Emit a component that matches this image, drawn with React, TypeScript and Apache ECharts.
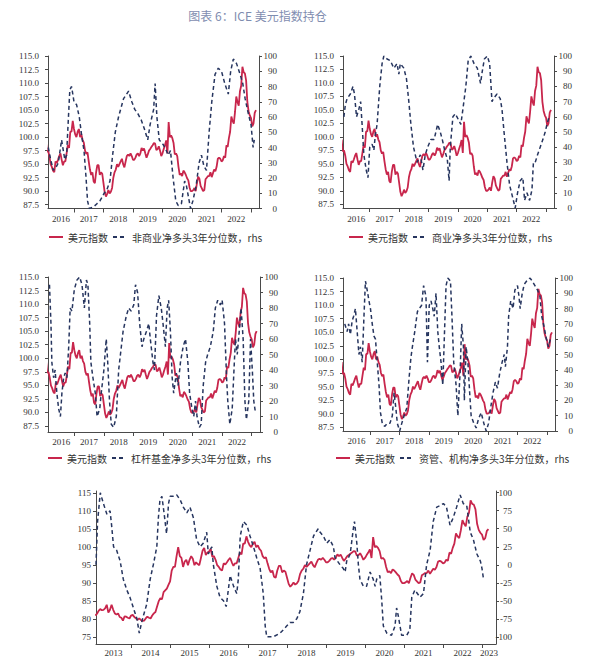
import React, { useEffect, useRef } from "react";
import * as echarts from "echarts";

// ---------- DATA ----------
const titleText = "图表 6：ICE 美元指数持仓";
const dxyName = "美元指数";
const seriesNames = [
  "非商业净多头3年分位数，rhs",
  "商业净多头3年分位数，rhs",
  "杠杆基金净多头3年分位数，rhs",
  "资管、机构净多头3年分位数，rhs",
  "非商业净多头分位数，rhs",
];

// ICE dollar index, semi-monthly readings starting Feb 2013
const dxyStart = 2013 + 1 / 12;
const dxyValues = [
  // 2013 (Feb-Dec)
  81.0, 81.5, 82.3, 82.8, 82.5, 82.6, 83.0, 84.0, 81.8, 82.6, 84.0, 82.6, 81.6, 81.3, 81.6, 80.6, 80.4, 79.6, 80.8, 80.7, 80.4, 80.2,
  // 2014
  81.0, 81.2, 80.6, 80.2, 79.8, 80.2, 79.8, 79.5, 79.6, 80.2, 80.7, 80.4, 80.2, 81.0, 81.6, 82.0, 83.5, 85.0, 85.8, 85.5, 87.5, 88.0, 88.5, 89.5,
  // 2015
  90.5, 93.5, 94.5, 94.5, 97.5, 100.0, 97.5, 97.0, 94.5, 96.0, 96.5, 95.0, 96.5, 97.5, 96.8, 95.0, 95.8, 95.3, 95.0, 97.0, 99.0, 99.8, 97.8, 98.5,
  // 2016
  98.8, 99.5, 97.3, 97.5, 96.5, 95.0, 94.5, 93.8, 93.5, 95.5, 95.2, 95.8, 96.5, 97.0, 95.8, 94.8, 95.5, 95.5, 97.0, 98.5, 98.0, 101.0, 101.0, 103.0,
  // 2017
  101.5, 100.5, 100.0, 101.0, 101.5, 100.0, 100.5, 99.5, 99.0, 97.5, 96.9, 97.2, 95.5, 94.0, 93.0, 93.5, 91.8, 91.5, 93.5, 94.8, 94.8, 93.0, 93.5, 93.2,
  // 2018
  91.5, 89.8, 89.0, 89.5, 90.2, 89.6, 89.9, 90.6, 92.5, 93.5, 94.0, 95.0, 94.5, 95.0, 95.5, 96.0, 95.0, 94.4, 95.5, 96.5, 96.8, 96.5, 97.0, 96.5,
  // 2019
  95.8, 95.8, 96.2, 96.8, 97.0, 96.5, 97.0, 98.0, 97.5, 97.9, 97.0, 96.2, 96.8, 97.5, 97.8, 98.2, 98.5, 98.9, 98.8, 97.6, 97.8, 98.3, 97.5, 96.5,
  // 2020
  97.0, 97.8, 98.5, 99.4, 97.0, 102.8, 100.0, 100.3, 99.8, 98.9, 96.8, 97.0, 96.5, 94.5, 93.0, 93.3, 92.8, 93.8, 93.5, 93.0, 92.4, 92.0, 90.7, 90.0,
  // 2021
  90.0, 90.2, 90.6, 90.0, 91.5, 92.7, 92.3, 91.0, 90.5, 90.0, 90.2, 92.2, 92.5, 92.8, 92.8, 93.5, 92.6, 93.3, 94.0, 93.7, 94.5, 96.0, 96.2, 96.0,
  // 2022
  95.5, 95.7, 96.5, 96.2, 98.5, 98.2, 99.8, 101.0, 103.8, 103.0, 102.5, 104.7, 107.5, 106.5, 105.8, 108.5, 109.5, 113.0, 112.0, 111.8, 110.5, 106.5, 104.8, 104.0,
  // 2023
  103.5, 102.0, 102.5, 104.5, 105.0,
];
const dxyDates = dxyValues.map((_, i) => dxyStart + i / 24);

// Non-commercial net long, 3y percentile
const ncDates = [2016.13, 2016.2, 2016.3, 2016.39, 2016.47, 2016.58, 2016.69, 2016.75, 2016.8, 2016.86, 2016.92, 2017.0, 2017.09, 2017.18, 2017.26, 2017.34, 2017.41, 2017.46, 2017.52, 2017.66, 2017.77, 2017.88, 2017.97, 2018.02, 2018.11, 2018.22, 2018.31, 2018.4, 2018.51, 2018.68, 2018.85, 2018.96, 2019.06, 2019.17, 2019.28, 2019.39, 2019.5, 2019.58, 2019.7, 2019.75, 2019.81, 2019.89, 2020.02, 2020.13, 2020.19, 2020.27, 2020.36, 2020.45, 2020.53, 2020.64, 2020.75, 2020.81, 2020.95, 2021.03, 2021.14, 2021.24, 2021.32, 2021.4, 2021.49, 2021.58, 2021.67, 2021.78, 2021.89, 2022.0, 2022.11, 2022.23, 2022.31, 2022.4, 2022.51, 2022.63, 2022.72, 2022.8, 2022.91, 2023.0, 2023.07, 2023.11];
const ncValues = [40, 33, 25, 27, 30, 45, 32, 35, 55, 78, 80, 70, 68, 60, 48, 38, 20, 5, 0, 1, 3, 5, 8, 10, 12, 18, 35, 50, 60, 72, 77, 70, 65, 62, 58, 52, 45, 55, 65, 82, 60, 45, 42, 38, 35, 38, 20, 5, 2, 3, 18, 15, 0, 5, 15, 30, 35, 28, 25, 50, 70, 88, 92, 90, 82, 75, 90, 98, 95, 88, 82, 72, 62, 55, 40, 45];

// Commercial net long, 3y percentile
const cmDates = [2016.12, 2016.17, 2016.23, 2016.34, 2016.43, 2016.48, 2016.55, 2016.63, 2016.69, 2016.74, 2016.8, 2016.88, 2016.94, 2017.0, 2017.08, 2017.14, 2017.19, 2017.25, 2017.34, 2017.42, 2017.48, 2017.59, 2017.7, 2017.82, 2017.93, 2017.99, 2018.04, 2018.16, 2018.25, 2018.33, 2018.4, 2018.49, 2018.61, 2018.72, 2018.81, 2018.89, 2018.97, 2019.08, 2019.19, 2019.31, 2019.4, 2019.47, 2019.55, 2019.64, 2019.7, 2019.74, 2019.83, 2019.91, 2020.02, 2020.1, 2020.17, 2020.27, 2020.35, 2020.44, 2020.55, 2020.66, 2020.77, 2020.83, 2020.9, 2021.0, 2021.08, 2021.16, 2021.21, 2021.33, 2021.44, 2021.5, 2021.57, 2021.67, 2021.76, 2021.85, 2021.95, 2022.03, 2022.12, 2022.21, 2022.27, 2022.35, 2022.44, 2022.52, 2022.57, 2022.63, 2022.71, 2022.8, 2022.89, 2022.97, 2023.03, 2023.1];
const cmValues = [60, 68, 72, 75, 80, 75, 60, 65, 70, 55, 35, 25, 20, 40, 42, 38, 48, 55, 80, 95, 100, 98, 97, 92, 95, 88, 95, 92, 85, 70, 55, 40, 30, 35, 25, 35, 40, 45, 45, 55, 50, 45, 38, 32, 18, 40, 60, 62, 58, 55, 65, 80, 97, 100, 95, 92, 82, 90, 98, 100, 95, 70, 72, 75, 72, 65, 50, 30, 15, 8, 0, 10, 18, 20, 5, 10, 5, 12, 30, 30, 35, 40, 45, 50, 55, 60];

// Leveraged funds net long, 3y percentile
const lfDates = [2016.16, 2016.21, 2016.24, 2016.3, 2016.35, 2016.41, 2016.47, 2016.53, 2016.58, 2016.64, 2016.69, 2016.75, 2016.81, 2016.86, 2016.92, 2017.0, 2017.09, 2017.18, 2017.26, 2017.34, 2017.41, 2017.46, 2017.52, 2017.56, 2017.63, 2017.71, 2017.77, 2017.86, 2017.91, 2018.0, 2018.08, 2018.13, 2018.19, 2018.25, 2018.33, 2018.42, 2018.5, 2018.56, 2018.65, 2018.76, 2018.84, 2018.92, 2019.01, 2019.07, 2019.14, 2019.21, 2019.29, 2019.35, 2019.44, 2019.52, 2019.57, 2019.66, 2019.71, 2019.78, 2019.86, 2019.94, 2020.0, 2020.08, 2020.14, 2020.19, 2020.25, 2020.31, 2020.36, 2020.45, 2020.51, 2020.59, 2020.68, 2020.76, 2020.84, 2020.9, 2020.98, 2021.04, 2021.1, 2021.15, 2021.23, 2021.29, 2021.36, 2021.44, 2021.51, 2021.6, 2021.7, 2021.77, 2021.85, 2021.94, 2022.0, 2022.08, 2022.15, 2022.19, 2022.26, 2022.34, 2022.4, 2022.45, 2022.51, 2022.6, 2022.64, 2022.71, 2022.77, 2022.82, 2022.9, 2022.96, 2023.02, 2023.07, 2023.13];
const lfValues = [95, 70, 45, 35, 40, 25, 15, 10, 25, 35, 38, 35, 55, 80, 78, 92, 98, 100, 95, 80, 98, 95, 70, 45, 35, 25, 10, 15, 25, 40, 60, 45, 20, 5, 3, 10, 40, 50, 65, 75, 80, 78, 82, 95, 90, 70, 55, 60, 65, 70, 60, 45, 40, 75, 88, 80, 70, 55, 80, 85, 65, 35, 25, 38, 30, 45, 55, 60, 45, 25, 15, 10, 20, 10, 3, 5, 30, 45, 50, 55, 65, 80, 85, 82, 85, 70, 35, 20, 5, 15, 40, 60, 50, 70, 80, 60, 20, 8, 20, 60, 40, 20, 12];

// Asset managers / institutions net long, 3y percentile
const amDates = [2016.15, 2016.23, 2016.28, 2016.34, 2016.4, 2016.45, 2016.51, 2016.57, 2016.63, 2016.68, 2016.74, 2016.8, 2016.85, 2016.91, 2016.97, 2017.02, 2017.08, 2017.14, 2017.19, 2017.25, 2017.31, 2017.36, 2017.42, 2017.5, 2017.59, 2017.68, 2017.76, 2017.82, 2017.88, 2017.93, 2018.01, 2018.08, 2018.16, 2018.25, 2018.33, 2018.39, 2018.44, 2018.52, 2018.61, 2018.67, 2018.75, 2018.82, 2018.9, 2018.95, 2019.01, 2019.07, 2019.13, 2019.18, 2019.24, 2019.3, 2019.35, 2019.41, 2019.47, 2019.52, 2019.58, 2019.64, 2019.73, 2019.78, 2019.84, 2019.92, 2019.98, 2020.06, 2020.11, 2020.17, 2020.2, 2020.26, 2020.32, 2020.38, 2020.43, 2020.52, 2020.6, 2020.68, 2020.77, 2020.86, 2020.94, 2021.02, 2021.09, 2021.17, 2021.25, 2021.32, 2021.4, 2021.48, 2021.55, 2021.59, 2021.66, 2021.7, 2021.77, 2021.85, 2021.91, 2022.0, 2022.05, 2022.09, 2022.16, 2022.23, 2022.31, 2022.42, 2022.5, 2022.59, 2022.68, 2022.76, 2022.82, 2022.88, 2022.93, 2023.0, 2023.05, 2023.11];
const amValues = [70, 65, 70, 63, 72, 75, 80, 65, 50, 55, 45, 75, 98, 92, 85, 80, 70, 62, 60, 45, 30, 12, 5, 3, 5, 5, 10, 25, 15, 5, 0, 5, 10, 15, 35, 48, 55, 65, 78, 80, 82, 95, 88, 45, 82, 85, 80, 75, 90, 65, 55, 45, 30, 60, 95, 100, 98, 75, 45, 30, 10, 40, 70, 55, 20, 55, 45, 25, 10, 5, 2, 8, 12, 5, 0, 5, 15, 25, 32, 28, 38, 45, 50, 42, 55, 75, 85, 80, 92, 95, 88, 80, 90, 96, 98, 100, 98, 95, 92, 88, 75, 70, 65, 58, 55, 60];

// Long-history net long percentile (bottom chart, -100..100)
const lhDates = [2013.1, 2013.14, 2013.21, 2013.29, 2013.38, 2013.46, 2013.5, 2013.55, 2013.63, 2013.72, 2013.8, 2013.89, 2013.97, 2014.06, 2014.15, 2014.21, 2014.27, 2014.32, 2014.4, 2014.49, 2014.57, 2014.66, 2014.7, 2014.74, 2014.79, 2014.85, 2014.91, 2014.96, 2015.0, 2015.09, 2015.17, 2015.26, 2015.34, 2015.43, 2015.51, 2015.6, 2015.68, 2015.77, 2015.85, 2015.94, 2015.98, 2016.07, 2016.11, 2016.2, 2016.28, 2016.37, 2016.44, 2016.54, 2016.63, 2016.71, 2016.75, 2016.8, 2016.88, 2016.97, 2017.05, 2017.14, 2017.22, 2017.31, 2017.39, 2017.44, 2017.48, 2017.65, 2017.82, 2017.91, 2017.99, 2018.08, 2018.16, 2018.25, 2018.33, 2018.42, 2018.5, 2018.59, 2018.68, 2018.8, 2018.85, 2018.93, 2019.02, 2019.1, 2019.19, 2019.23, 2019.36, 2019.44, 2019.49, 2019.53, 2019.62, 2019.7, 2019.73, 2019.79, 2019.83, 2019.87, 2019.96, 2020.04, 2020.13, 2020.21, 2020.26, 2020.3, 2020.38, 2020.43, 2020.47, 2020.56, 2020.68, 2020.77, 2020.81, 2020.85, 2020.94, 2021.07, 2021.15, 2021.2, 2021.28, 2021.41, 2021.5, 2021.58, 2021.67, 2021.75, 2021.84, 2021.92, 2022.01, 2022.09, 2022.18, 2022.26, 2022.35, 2022.44, 2022.52, 2022.61, 2022.7, 2022.78, 2022.87, 2022.96, 2023.0, 2023.04];
const lhValues = [0, 60, 100, 85, 70, 75, 55, 25, 20, 5, -20, -35, -45, -60, -75, -95, -80, -70, -55, -20, 0, 25, 65, 90, 95, 70, 43, 85, 95, 95, 97, 90, 80, 72, 80, 65, 35, 25, 30, 45, 15, 25, 0, -30, -45, -50, -58, -15, -30, -40, -20, 40, 60, 55, 40, 25, 10, -5, -40, -85, -100, -100, -95, -90, -85, -80, -80, -75, -65, -40, 0, 20, 40, 50, 45, 40, 30, 35, 25, 10, 0, -5, -10, 5, 15, 50, 60, 30, 0, -20, -30, -30, -10, -20, -30, -20, -15, -50, -85, -95, -98, -85, -60, -70, -98, -98, -90, -45, -35, -45, -40, 0, 20, 60, 80, 82, 85, 80, 55, 65, 80, 97, 85, 82, 45, 35, 15, 5, -5, -20];

// Axis tick labels
const pctTicks = [0, 10, 20, 30, 40, 50, 60, 70, 80, 90, 100];
const dxyTicks = [87.5, 90, 92.5, 95, 97.5, 100, 102.5, 105, 107.5, 110, 112.5, 115];
const longDxyTicks = [75, 80, 85, 90, 95, 100, 105, 110, 115];
const longPctTicks = [-100, -75, -50, -25, 0, 25, 50, 75, 100];

// ---------- STYLE / LAYOUT ----------
const RED = "#c8264c";
const NAVY = "#26355f";
const AXIS = "#4a4a4a";
const LABEL = "#333333";
const SERIF = "'Liberation Serif', 'Times New Roman', serif";
const CJK = "'Noto Sans CJK SC', sans-serif";

const panels = [
  { grid: { left: 48, top: 56, width: 211, height: 152.5 }, xMin: 2016.12, xMax: 2023.27, lMin: 86.8, lMax: 115, lTicks: dxyTicks, rMin: 0, rMax: 100, rTicks: pctTicks, dec: 1, lMargin: 9, rMargin: 18, xMargin: 6, dates: ncDates, values: ncValues, legend: { left: 43, top: 227 } },
  { grid: { left: 343, top: 56, width: 211, height: 152 }, xMin: 2016.09, xMax: 2023.27, lMin: 86.8, lMax: 115, lTicks: dxyTicks, rMin: 0, rMax: 100, rTicks: pctTicks, dec: 1, lMargin: 9, rMargin: 18, xMargin: 6, dates: cmDates, values: cmValues, legend: { left: 343, top: 227 } },
  { grid: { left: 48, top: 277, width: 212, height: 155 }, xMin: 2016.11, xMax: 2023.28, lMin: 86.4, lMax: 115, lTicks: dxyTicks, rMin: 0, rMax: 100, rTicks: pctTicks, dec: 1, lMargin: 9, rMargin: 18, xMargin: 5, dates: lfDates, values: lfValues, legend: { left: 42, top: 448 } },
  { grid: { left: 343, top: 278, width: 212, height: 153 }, xMin: 2016.09, xMax: 2023.27, lMin: 86.8, lMax: 115, lTicks: dxyTicks, rMin: 0, rMax: 100, rTicks: pctTicks, dec: 1, lMargin: 9, rMargin: 18, xMargin: 5, dates: amDates, values: amValues, legend: { left: 330, top: 448 } },
  { grid: { left: 96, top: 491, width: 400, height: 153 }, xMin: 2013.1, xMax: 2023.36, lMin: 73.1, lMax: 115.6, lTicks: longDxyTicks, rMin: -110, rMax: 102.4, rTicks: longPctTicks, dec: 0, lMargin: 5, rMargin: 16, xMargin: 4, dates: lhDates, values: lhValues, legend: null },
];

function yearTicks(min: number, max: number) {
  const out: number[] = [];
  for (let y = Math.ceil(min); y < max; y++) if (y > min) out.push(y);
  return out;
}
function yearLabelPos(min: number, max: number) {
  const out: number[] = [];
  for (let y = Math.floor(min); y < max; y++) {
    const a = Math.max(y, min);
    const b = Math.min(y + 1, max);
    if (b - a > 0.3) out.push((a + b) / 2);
  }
  return out;
}

function buildOption() {
  const grid: any[] = [];
  const xAxis: any[] = [];
  const yAxis: any[] = [];
  const series: any[] = [];
  const legend: any[] = [];
  const dxyData = dxyDates.map((d, i) => [d, dxyValues[i]]);

  panels.forEach((p, i) => {
    grid.push({ ...p.grid, containLabel: false });
    xAxis.push({
      type: "value",
      gridIndex: i,
      min: p.xMin,
      max: p.xMax,
      axisLine: { show: true, onZero: false, lineStyle: { color: AXIS, width: 1 } },
      axisTick: { show: true, length: 4, customValues: yearTicks(p.xMin, p.xMax), lineStyle: { color: AXIS } },
      axisLabel: {
        customValues: yearLabelPos(p.xMin, p.xMax),
        formatter: (v: number) => String(Math.floor(v)),
        fontFamily: SERIF,
        fontSize: 9,
        color: LABEL,
        margin: p.xMargin,
      },
      splitLine: { show: false },
    });
    yAxis.push({
      type: "value",
      gridIndex: i,
      position: "left",
      min: p.lMin,
      max: p.lMax,
      axisLine: { show: true, onZero: false, lineStyle: { color: AXIS, width: 1 } },
      axisTick: { show: true, length: 3, customValues: p.lTicks, lineStyle: { color: AXIS } },
      axisLabel: {
        customValues: p.lTicks,
        formatter: (v: number) => v.toFixed(p.dec),
        fontFamily: SERIF,
        fontSize: 9,
        color: LABEL,
        margin: p.lMargin,
      },
      splitLine: { show: false },
    });
    yAxis.push({
      type: "value",
      gridIndex: i,
      position: "right",
      min: p.rMin,
      max: p.rMax,
      axisLine: { show: true, onZero: false, lineStyle: { color: AXIS, width: 1 } },
      axisTick: { show: true, length: 3, customValues: p.rTicks, lineStyle: { color: AXIS } },
      axisLabel: {
        customValues: p.rTicks,
        formatter: (v: number) => String(v),
        fontFamily: SERIF,
        fontSize: 9,
        color: LABEL,
        align: "right",
        margin: p.rMargin,
      },
      splitLine: { show: false },
    });
    series.push({
      type: "line",
      name: dxyName,
      xAxisIndex: i,
      yAxisIndex: 2 * i,
      data: dxyData,
      symbol: "none",
      lineStyle: { color: RED, width: 1.8 },
      itemStyle: { color: RED },
      z: 2,
    });
    series.push({
      type: "line",
      name: seriesNames[i],
      xAxisIndex: i,
      yAxisIndex: 2 * i + 1,
      data: p.dates.map((d, k) => [d, p.values[k]]),
      symbol: "none",
      lineStyle: { color: NAVY, width: 1.5, type: [4, 3] },
      itemStyle: { color: NAVY },
      z: 3,
    });
    if (p.legend) {
      legend.push({
        left: p.legend.left,
        top: p.legend.top,
        orient: "horizontal",
        itemWidth: 14,
        itemHeight: 8,
        itemGap: 4,
        selectedMode: false,
        itemStyle: { opacity: 0 },
        textStyle: { fontFamily: CJK, fontSize: 10, color: "#333" },
        data: [dxyName, seriesNames[i]],
      });
    }
  });

  return {
    animation: false,
    backgroundColor: "#ffffff",
    grid,
    xAxis,
    yAxis,
    series,
    legend,
    graphic: [
      {
        type: "text",
        x: 257.5,
        y: 15,
        style: {
          text: titleText,
          fontFamily: CJK,
          fontSize: 12,
          fill: "#7f8db0",
          align: "center",
          verticalAlign: "middle",
        },
      },
    ],
  };
}

export default function App() {
  const ref = useRef<HTMLDivElement>(null);
  useEffect(() => {
    if (!ref.current) return;
    const chart = echarts.init(ref.current, null, { renderer: "svg" });
    chart.setOption(buildOption() as any);
    return () => chart.dispose();
  }, []);
  return (
    <div
      ref={ref}
      style={{ position: "absolute", left: 0, top: 0, width: 600, height: 659, background: "#fff" }}
    />
  );
}
